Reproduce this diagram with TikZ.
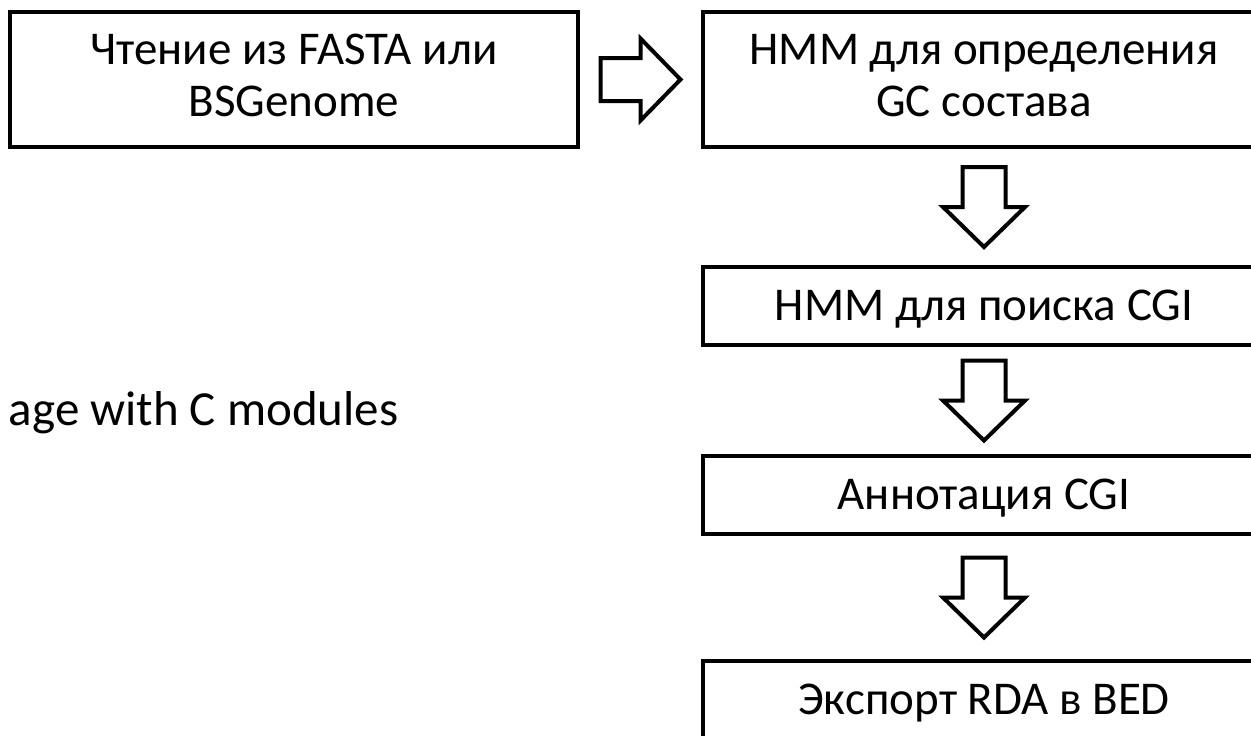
\documentclass[tikz,border=0pt]{standalone}
\usepackage{fontspec}
\setmainfont{Carlito}
\usetikzlibrary{calc}

\begin{document}
\begin{tikzpicture}[x=1pt,y=-1pt,auto,node distance=690pt,line join=miter]
  \tikzstyle{every node}=[font=\fontsize{47}{52}\selectfont]
  \tikzstyle{box}=[draw=black,line width=4pt,fill=white,align=center,inner sep=0pt,text depth=2pt]
  \tikzstyle{twoline}=[box,minimum height=135pt,text depth=8pt]
  \tikzstyle{hollow}=[draw=black,line width=4pt,fill=white]

  \useasboundingbox (0,0) rectangle (1251,736);

  \node[twoline,minimum width=568pt] (A) at (294,79.5) {Чтение из FASTA или\\BSGenome};
  \node[twoline,minimum width=562pt] (B) [right of=A] {HMM для определения\\GC состава};
  \node[box,minimum width=562pt,minimum height=78pt] (C) [node distance=226.5pt,below of=B] {HMM для поиска CGI};
  \node[box,minimum width=562pt,minimum height=78pt] (D) [node distance=189pt,below of=C] {Аннотация CGI};
  \node[box,minimum width=562pt,minimum height=78pt] (E) [node distance=205pt,below of=D] {Экспорт RDA в BED};

  \node[anchor=base east,font=\fontsize{49}{58}\selectfont] (pkg) at (402,425) {age with C modules};

  \coordinate (r1) at ($(A.east)!0.5!(B.west)$);
  \coordinate (d1) at ($(B.south)!0.5!(C.north)$);
  \coordinate (d2) at ($(C.south)!0.5!(D.north)$);
  \coordinate (d3) at ($(D.south)!0.5!(E.north)$);

  \foreach \m/\a in {r1/0,d1/-90,d2/-90,d3/-90}
    \draw[hollow,shift={(\m)},rotate=\a] (-40,-21.5) -- (0,-21.5) -- (0,-41) -- (40,0)
      -- (0,41) -- (0,21.5) -- (-40,21.5) -- cycle;
\end{tikzpicture}
\end{document}
